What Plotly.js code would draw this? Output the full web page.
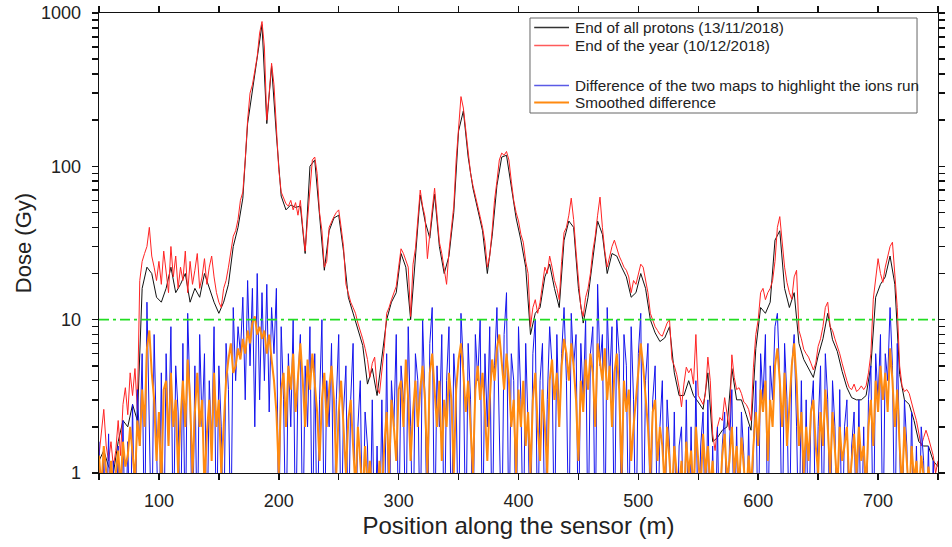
<!DOCTYPE html>
<html>
<head>
<meta charset="utf-8">
<script src="https://cdn.plot.ly/plotly-3.0.1.min.js"></script>
<style>
  html, body { margin: 0; padding: 0; background: #fff; }
  #chart { width: 952px; height: 547px; }
</style>
</head>
<body>
<div id="chart"></div>
<script>
// Dose maps along the sensor, sampled every 2 m from 50 m to 750 m
const POS_START = 50;
const POS_STEP = 2;

// End of the year map (10/12/2018), Gy
const doseEndOfYear = [
  1.3, 1.8, 2.6, 1.5, 1.2,
  1.6, 1.1, 1.4, 2.2, 1.3,
  2.8, 3.6, 2.4, 4.5, 3.2,
  4.8, 2.6, 18, 24, 27,
  30, 40, 26, 22, 18,
  24, 17, 28, 20, 15,
  30, 19, 26, 16, 22,
  18, 28, 15, 24, 17,
  21, 27, 16, 19, 25,
  17, 22, 26, 19, 15,
  13, 12, 16, 18, 22,
  28, 35, 38, 45, 60,
  68, 110, 200, 300, 340,
  420, 520, 740, 880, 600,
  200, 300, 470, 340, 170,
  95, 68, 62, 57, 55,
  60, 52, 58, 48, 60,
  40, 28, 45, 75, 110,
  115, 90, 50, 38, 22,
  24, 40, 44, 47, 50,
  52, 40, 30, 17, 15,
  13, 12, 11, 9.5, 8.5,
  7.5, 6.5, 5.5, 4.2, 5.2,
  5.7, 3.6, 3.3, 4.5, 6.5,
  11, 12, 13.5, 15, 16.5,
  22, 29, 27, 24, 22,
  10.5, 23, 29, 45, 70,
  55, 47, 25, 38, 52,
  72, 45, 32, 27, 22,
  17, 28, 40, 55, 110,
  180, 285, 240, 170, 120,
  90, 75, 65, 55, 47,
  40, 32, 22, 26, 38,
  60, 80, 110, 122, 118,
  125, 110, 80, 60, 50,
  44, 36, 32, 24, 20,
  9, 12, 13.5, 11, 13,
  17, 22, 20, 26, 22,
  18, 16, 13.5, 24, 37,
  40, 48, 62, 45, 28,
  18, 12, 10.5, 14, 16,
  20, 28, 35, 48, 63,
  40, 28, 22, 26, 30,
  33, 29, 26, 24, 22,
  21, 19, 15, 18, 17,
  20, 23, 22, 18, 15,
  11, 10, 9, 8.5, 8,
  7.8, 8.5, 9.5, 10, 5.5,
  5, 4.4, 3.6, 2.7, 3.8,
  4.9, 4.5, 4.8, 3.8, 8,
  3.2, 3, 2.8, 3.3, 5.7,
  4, 1.8, 1.4, 2, 2.3,
  2.2, 3.1, 2.4, 1.9, 5.9,
  4.2, 3.5, 3.6, 3.3, 2.9,
  2.8, 2.6, 2.2, 4.9, 8,
  10, 15, 16, 13.5, 15,
  16, 18, 24, 40, 47,
  30, 22, 17.5, 15, 13.6,
  19, 21, 8.5, 7.5, 6.4,
  6, 5.7, 5.2, 4.7, 5.2,
  6.7, 7.5, 9, 12, 13,
  9, 8.5, 7.5, 6.8, 6,
  5.2, 4.5, 4, 3.6, 3.5,
  3.8, 3.4, 3.5, 3.7, 3.5,
  3.7, 4.5, 6, 13.6, 18,
  25, 20, 17.5, 22, 26,
  30, 32, 20, 12, 5,
  3.7, 3.4, 3.5, 3.3, 2.8,
  2.5, 2.2, 1.8, 1.5, 1.7,
  1.9, 1.7, 1.5, 1.3, 1.0,
  1.2
];

// End of all protons map (13/11/2018), Gy, sampled every 4 m
const PROTON_STEP = 4;
const doseEndOfProtons = [
  1.2, 1.4, 1.1, 1.0, 1.6,
  2.2, 2.0, 2.8, 2.2, 16,
  22, 20, 14, 13, 16,
  22, 15, 17, 20, 13,
  16, 14, 20, 16, 13,
  11, 13, 17, 30, 40,
  62, 190, 320, 500, 840,
  190, 450, 160, 64, 52,
  56, 54, 55, 27, 100,
  110, 45, 21, 38, 46,
  48, 28, 14, 11, 8.5,
  6.8, 3.8, 4.8, 3.2, 5.8,
  10, 13, 15, 27, 22,
  10, 27, 65, 44, 34,
  66, 30, 20, 26, 50,
  170, 230, 115, 72, 52,
  38, 20, 35, 75, 115,
  118, 75, 46, 33, 22,
  8, 11, 12, 19, 23,
  16, 12, 33, 44, 40,
  16, 9.5, 14, 25, 44,
  36, 20, 27, 26, 22,
  19, 14, 15, 20, 16,
  10, 8.2, 7.2, 7.6, 9,
  4.5, 3.2, 3.2, 4, 3.2,
  2.9, 2.6, 4.5, 1.6, 1.7,
  1.9, 2.0, 4.8, 3.0, 3.0,
  2.4, 1.9, 6.5, 12, 11,
  13, 33, 38, 16, 12,
  15, 7.0, 5.5, 4.8, 4.2,
  5.8, 7.5, 11, 7.4, 6.2,
  4.6, 3.6, 3.1, 3.0, 3.0,
  3.2, 5, 14, 17, 19,
  26, 17, 4.4, 3.0, 2.8,
  2.2, 1.6, 1.5, 1.5, 1.2,
  1.1
];

// Difference of the two maps (ions run), Gy
const doseDifference = [
  1.6, 0.3, 1.3, 0.3, 1.8,
  0.3, 1.2, 0.3, 1.5, 0.3,
  2.2, 0.3, 1.6, 0.3, 2.8,
  0.3, 3.5, 1.5, 6, 0.3,
  13, 3, 0.3, 8, 2,
  0.3, 4.5, 0.3, 6, 1.5,
  9, 0.3, 5, 2.5, 0.3,
  7, 0.3, 11, 3, 0.3,
  5, 0.3, 8, 2, 6,
  0.3, 4, 1.5, 9, 0.3,
  5, 2, 0.3, 7, 3.5,
  0.3, 12, 4, 9, 6,
  14, 3, 18, 5, 16,
  2, 20, 3, 15, 4,
  17, 2.5, 12, 6, 16,
  0.3, 9, 3, 0.3, 6,
  2, 10, 0.3, 4, 8,
  0.3, 5, 2, 9, 0.3,
  6, 0.3, 3, 10, 0.3,
  4, 2, 7, 0.3, 3,
  8, 0.3, 2.5, 5, 0.3,
  3, 7, 0.3, 2, 4,
  0.3, 2.5, 1.5, 0.3, 3,
  0.3, 1.5, 0.3, 3, 0.3,
  6, 0.3, 4, 2, 8,
  0.3, 5, 3, 0.3, 9,
  2, 0.3, 6, 4, 0.3,
  10, 3, 0.3, 7, 12,
  0.3, 5, 2, 8, 0.3,
  4, 9, 0.3, 6, 3,
  0.3, 11, 5, 0.3, 7,
  3, 0.3, 8, 4, 10,
  0.3, 6, 2, 9, 0.3,
  5, 12, 3, 0.3, 8,
  15, 0.3, 6, 4, 0.3,
  9, 3, 0.3, 7, 2,
  0.3, 6, 10, 0.3, 4,
  7, 0.3, 3, 9, 5,
  0.3, 8, 2, 6, 12,
  4, 0.3, 11, 5, 8,
  0.3, 7, 3, 10, 0.3,
  6, 9, 0.3, 17, 5,
  8, 0.3, 12, 4, 9,
  0.3, 10, 6, 0.3, 8,
  5, 0.3, 9, 3, 0.3,
  6, 11, 0.3, 4, 7,
  0.3, 3, 5, 0.3, 2,
  4, 0.3, 3, 1.5, 0.3,
  2.5, 0.3, 1.5, 2, 0.3,
  3, 0.3, 2, 0.3, 4,
  0.3, 1.5, 2.5, 0.3, 3,
  0.3, 1.5, 0.3, 2, 0.3,
  1.5, 2.5, 0.3, 1.5, 3.5,
  0.3, 2, 0.3, 2.5, 1.3,
  0.3, 2, 0.3, 1.5, 4,
  0.3, 6, 3, 8, 0.3,
  5, 3, 9, 11, 4,
  0.3, 7, 3, 0.3, 5,
  8, 2, 0.3, 4, 0.3,
  3, 0.3, 2.5, 4, 0.3,
  2, 5, 0.3, 6, 3,
  0.3, 4, 2, 0.3, 3.5,
  0.3, 2, 3, 0.3, 1.5,
  2.5, 0.3, 3, 0.3, 2,
  0.3, 3, 5, 0.3, 6,
  3, 8, 0.3, 6, 4,
  12, 5, 0.3, 7, 2,
  0.3, 3, 1.5, 0.3, 2.5,
  0.3, 1.5, 0.3, 2, 1.2,
  0.3, 1.5, 0.3, 1.2, 0.3,
  1.0
];

// Smoothed difference, Gy
const doseSmoothed = [
  1.3, 0.8, 1.5, 1.1, 0.7,
  1.2, 0.8, 1.0, 1.4, 0.8,
  1.6, 1.1, 1.3, 2.0, 1.4,
  0.9, 2.2, 1.5, 3.5, 2.0,
  6.5, 8.5, 4.5, 3.0, 1.2,
  2.5, 0.8, 3.5, 4.0, 1.5,
  4.5, 2.0, 3.0, 1.0, 2.2,
  4.0, 2.0, 5.5, 3.0, 1.0,
  2.5, 4.5, 2.0, 3.0, 0.8,
  1.8, 3.0, 1.2, 4.5, 2.0,
  3.0, 1.0, 2.0, 4.0, 5.5,
  7.0, 4.5, 5.0, 6.5, 5.5,
  7.5, 6.0, 8.5, 7.0, 9.5,
  10.5, 8.0, 9.0, 7.5, 8.5,
  6.0, 8.0, 5.5, 4.0, 2.5,
  1.0, 3.5, 4.5, 2.0, 5.0,
  3.5, 6.0, 2.5, 4.5, 7.0,
  4.0, 2.0, 5.5, 3.5, 6.0,
  4.0, 2.5, 1.2, 3.0, 4.5,
  2.0, 3.5, 5.0, 3.0, 1.0,
  2.5, 4.0, 2.0, 1.0, 2.2,
  3.0, 1.5, 0.8, 2.0, 1.2,
  0.7, 1.5, 0.8, 1.2, 0.7,
  0.8, 0.6, 1.2, 0.7, 1.5,
  2.5, 1.0, 3.0, 2.0, 1.2,
  3.5, 4.0, 2.0, 5.5, 3.0,
  1.2, 2.5, 4.0, 2.0, 3.5,
  5.0, 3.0, 1.0, 4.5, 6.0,
  3.5, 2.0, 4.0, 1.2, 3.0,
  2.0, 4.5, 3.0, 1.0, 3.5,
  5.5, 7.0, 4.5, 2.5, 4.0,
  2.0, 1.0, 3.5, 5.0, 3.0,
  4.5, 2.5, 1.2, 3.0, 5.5,
  4.0, 6.5, 8.0, 5.0, 3.5,
  6.0, 4.0, 2.0, 3.0, 1.0,
  3.5, 2.0, 4.0, 1.5, 2.5,
  1.0, 3.0, 4.5, 2.0, 1.2,
  3.5, 2.0, 1.0, 4.0, 5.5,
  3.0, 4.5, 2.0, 5.0, 7.5,
  6.0, 4.0, 7.0, 5.0, 3.0,
  1.2, 4.0, 2.5, 5.5, 3.5,
  6.0, 4.5, 2.0, 7.0, 5.5,
  4.0, 6.5, 3.0, 5.0, 2.0,
  4.5, 6.0, 3.5, 1.0, 4.0,
  2.5, 3.5, 1.2, 2.0, 3.0,
  4.5, 7.0, 5.0, 3.0, 2.0,
  1.0, 2.5, 3.0, 1.2, 2.0,
  1.5, 0.8, 2.0, 1.2, 0.7,
  1.5, 1.0, 0.8, 1.2, 0.6,
  1.6, 1.0, 1.4, 0.7, 2.0,
  1.2, 0.8, 1.8, 1.0, 1.5,
  0.8, 1.2, 0.6, 1.0, 0.7,
  1.3, 1.8, 0.9, 1.2, 2.0,
  1.0, 1.5, 0.8, 1.7, 1.0,
  0.7, 1.3, 0.8, 1.5, 2.5,
  1.5, 3.5, 2.5, 4.0, 1.2,
  3.0, 2.0, 5.0, 6.5, 4.0,
  2.0, 4.5, 1.5, 3.0, 5.0,
  7.0, 4.0, 1.5, 2.5, 1.0,
  2.0, 1.2, 2.5, 3.0, 1.5,
  1.0, 2.5, 1.5, 3.5, 2.0,
  1.0, 2.5, 1.5, 0.8, 2.0,
  1.2, 1.5, 2.0, 0.8, 1.2,
  1.8, 1.0, 2.0, 1.2, 1.5,
  0.8, 2.0, 3.0, 1.5, 4.0,
  2.5, 5.0, 3.0, 4.5, 2.5,
  6.5, 4.0, 2.0, 3.5, 1.5,
  0.8, 2.0, 1.2, 0.7, 1.5,
  0.9, 1.2, 0.7, 1.3, 1.0,
  0.7, 1.1, 0.8, 1.0, 0.7,
  0.9
];

// Reference dose level drawn as a dash-dot line
const referenceDose = 10;
const positionRange = [50, 750];
const doseLogRange = [0, 3];

// Tick positions and labels (blank labels mark the minor ticks)
const xTickVals = [50, 100, 150, 200, 250, 300, 350, 400, 450, 500, 550, 600, 650, 700, 750];
const xTickText = ['', '100', '', '200', '', '300', '', '400', '', '500', '', '600', '', '700', ''];
const yTickVals = [1, 2, 3, 4, 5, 6, 7, 8, 9,
                   10, 20, 30, 40, 50, 60, 70, 80, 90,
                   100, 200, 300, 400, 500, 600, 700, 800, 900, 1000];
const yTickText = ['1', '', '', '', '', '', '', '', '',
                   '10', '', '', '', '', '', '', '', '',
                   '100', '', '', '', '', '', '', '', '', '1000'];

const seriesNames = [
  'End of all protons (13/11/2018)',
  'End of the year (10/12/2018)',
  'Difference of the two maps to highlight the ions run',
  'Smoothed difference'
];
const seriesColors = ['#111111', '#ff2424', '#1414ee', '#ff8a10'];
const seriesWidths = [1, 1, 1, 2];
const sampleColors = ['#333333', '#ff5a5a', '#5a5ae6', '#ff8a10'];
const sampleWidths = [1.6, 1.6, 1.6, 2.2];
// legend row centres in paper fraction (third slot left empty)
const legendRows = [0.96848, 0.92935, 0.84239, 0.80543];

function positions(n, start, step) {
  const out = [];
  for (let i = 0; i < n; i++) out.push(start + i * step);
  return out;
}

const FONT = 'Liberation Sans, Arial, Helvetica, sans-serif';

const seriesData = [
  { y: doseEndOfProtons, step: PROTON_STEP },
  { y: doseEndOfYear, step: POS_STEP },
  { y: doseDifference, step: POS_STEP },
  { y: doseSmoothed, step: POS_STEP }
];

const traces = seriesData.map((s, i) => ({
  x: positions(s.y.length, POS_START, s.step),
  y: s.y,
  name: seriesNames[i],
  mode: 'lines',
  showlegend: false,
  line: { color: seriesColors[i], width: seriesWidths[i] }
}));

traces.push({
  x: positionRange,
  y: [referenceDose, referenceDose],
  mode: 'lines',
  showlegend: false,
  hoverinfo: 'skip',
  line: { color: '#22dd22', width: 1.6, dash: '10px,4px,3px,4px' }
});

const axisCommon = {
  showline: true,
  linecolor: '#111',
  linewidth: 1.4,
  mirror: 'allticks',
  ticks: 'outside',
  tickcolor: '#111',
  tickwidth: 1.5,
  ticklen: 6,
  showgrid: false,
  zeroline: false,
  automargin: false,
  tickmode: 'array',
  tickfont: { family: FONT, size: 18, color: '#222' }
};

// Legend: frame, line samples and labels
const legendLeft = 0.5137, legendRight = 0.975;
const legendTop = 0.9891, legendBottom = 0.7826;
const sampleX0 = 0.5187, sampleX1 = 0.5602, labelX = 0.5650;

const shapes = [{
  type: 'rect', xref: 'paper', yref: 'paper',
  x0: legendLeft, x1: legendRight, y0: legendBottom, y1: legendTop,
  line: { color: '#666', width: 1 }, fillcolor: '#ffffff', layer: 'above'
}];
const annotations = [];
seriesNames.forEach((name, i) => {
  const yy = legendRows[i];
  shapes.push({
    type: 'line', xref: 'paper', yref: 'paper',
    x0: sampleX0, x1: sampleX1, y0: yy, y1: yy,
    line: { color: sampleColors[i], width: sampleWidths[i] }, layer: 'above'
  });
  annotations.push({
    xref: 'paper', yref: 'paper', x: labelX, y: yy,
    xanchor: 'left', yanchor: 'middle', showarrow: false,
    text: name,
    font: { family: FONT, size: 15.3, color: '#222' }
  });
});

const layout = {
  width: 952,
  height: 547,
  margin: { l: 99, r: 14, t: 13, b: 74, pad: 0 },
  paper_bgcolor: '#ffffff',
  plot_bgcolor: '#ffffff',
  font: { family: FONT, color: '#222' },
  showlegend: false,
  shapes: shapes,
  annotations: annotations,
  xaxis: Object.assign({}, axisCommon, {
    range: positionRange,
    tickvals: xTickVals,
    ticktext: xTickText,
    ticklabelstandoff: 5,
    title: { text: 'Position along the sensor (m)', font: { family: FONT, size: 24, color: '#222' }, standoff: 7 }
  }),
  yaxis: Object.assign({}, axisCommon, {
    type: 'log',
    range: doseLogRange,
    tickvals: yTickVals,
    ticktext: yTickText,
    ticklabelstandoff: 7,
    title: { text: 'Dose (Gy)', font: { family: FONT, size: 22, color: '#222' }, standoff: 3 }
  })
};

Plotly.newPlot('chart', traces, layout, { displayModeBar: false, staticPlot: true });
</script>
</body>
</html>
